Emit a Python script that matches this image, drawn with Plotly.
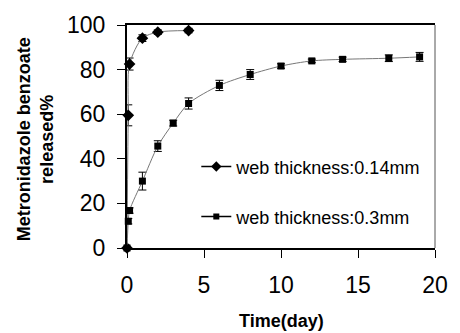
import plotly.graph_objects as go

# Data
t_thin = [0, 0.083, 0.167, 1, 2, 4]
rel_thin = [0, 59.5, 82.5, 94.1, 96.8, 97.5]
err_thin = [0, 4.7, 2.7, 1.5, 1.0, 1.0]

t_thick = [0, 0.083, 0.167, 1, 2, 3, 4, 6, 8, 10, 12, 14, 17, 19]
rel_thick = [0, 12.0, 16.8, 30.0, 45.7, 56.0, 64.8, 72.9, 77.8, 81.6, 83.9, 84.6, 85.1, 85.7]
err_thick = [0, 1.2, 1.2, 4.0, 2.4, 1.3, 2.5, 2.3, 2.2, 1.0, 0.8, 1.0, 1.5, 2.0]

name_thin = "web thickness:0.14mm"
name_thick = "web thickness:0.3mm"

x_ticks = [0, 5, 10, 15, 20]
y_ticks = [0, 20, 40, 60, 80, 100]

FONT = "Liberation Sans, Arial, sans-serif"

fig = go.Figure()

fig.add_trace(go.Scatter(
    x=t_thin, y=rel_thin, mode="lines+markers", showlegend=False,
    line=dict(color="#777777", width=1, shape="spline", smoothing=0.8),
    marker=dict(symbol="diamond", size=9, color="black"),
    error_y=dict(type="data", array=err_thin, color="black", thickness=1, width=4),
    cliponaxis=False,
))
fig.add_trace(go.Scatter(
    x=t_thick, y=rel_thick, mode="lines+markers", showlegend=False,
    line=dict(color="#777777", width=1, shape="spline", smoothing=0.8),
    marker=dict(symbol="square", size=7, color="black"),
    error_y=dict(type="data", array=err_thick, color="black", thickness=1, width=4),
    cliponaxis=False,
))

# legend entries
fig.add_trace(go.Scatter(
    x=[None], y=[None], mode="lines+markers", name=name_thin, legend="legend",
    line=dict(color="black", width=1.5), marker=dict(symbol="diamond", size=8, color="black"),
))
fig.add_trace(go.Scatter(
    x=[None], y=[None], mode="lines+markers", name=name_thick, legend="legend2",
    line=dict(color="black", width=1.5), marker=dict(symbol="square", size=6, color="black"),
))

fig.update_layout(
    width=460, height=333,
    margin=dict(l=127, r=13, t=20, b=85),
    paper_bgcolor="white", plot_bgcolor="white",
    font=dict(family=FONT, color="black"),
    legend=dict(x=0.225, y=0.364, xanchor="left", yanchor="middle",
                bgcolor="rgba(0,0,0,0)", font=dict(size=18, family=FONT)),
    legend2=dict(x=0.225, y=0.140, xanchor="left", yanchor="middle",
                 bgcolor="rgba(0,0,0,0)", font=dict(size=18, family=FONT)),
    xaxis=dict(range=[0, 20], tickvals=x_ticks, ticks="outside", ticklen=8,
               tickcolor="black", showline=True, linecolor="black", linewidth=1.5,
               mirror=True, showgrid=False, zeroline=False, ticklabelstandoff=8,
               tickfont=dict(size=23, family=FONT)),
    yaxis=dict(range=[0, 100], tickvals=y_ticks, ticks="outside", ticklen=8,
               tickcolor="black", showline=True, linecolor="black", linewidth=2,
               showgrid=False, zeroline=False, ticklabelstandoff=7,
               tickfont=dict(size=23, family=FONT)),
    shapes=[dict(type="line", xref="paper", yref="paper", x0=1, x1=1, y0=0, y1=1,
                 line=dict(color="#555555", width=1))],
    annotations=[
        dict(text="<b>Metronidazole benzoate<br>released%</b>", xref="paper", yref="paper",
             x=-0.297, y=0.485, xanchor="center", yanchor="middle", textangle=-90,
             showarrow=False, font=dict(size=18, family=FONT)),
        dict(text="<b>Time(day)</b>", xref="paper", yref="paper",
             x=0.5, y=-0.329, xanchor="center", yanchor="middle",
             showarrow=False, font=dict(size=18, family=FONT)),
    ],
)

fig.write_html("out.html", config={"displayModeBar": False},
               post_script="document.body.style.margin='0';")
